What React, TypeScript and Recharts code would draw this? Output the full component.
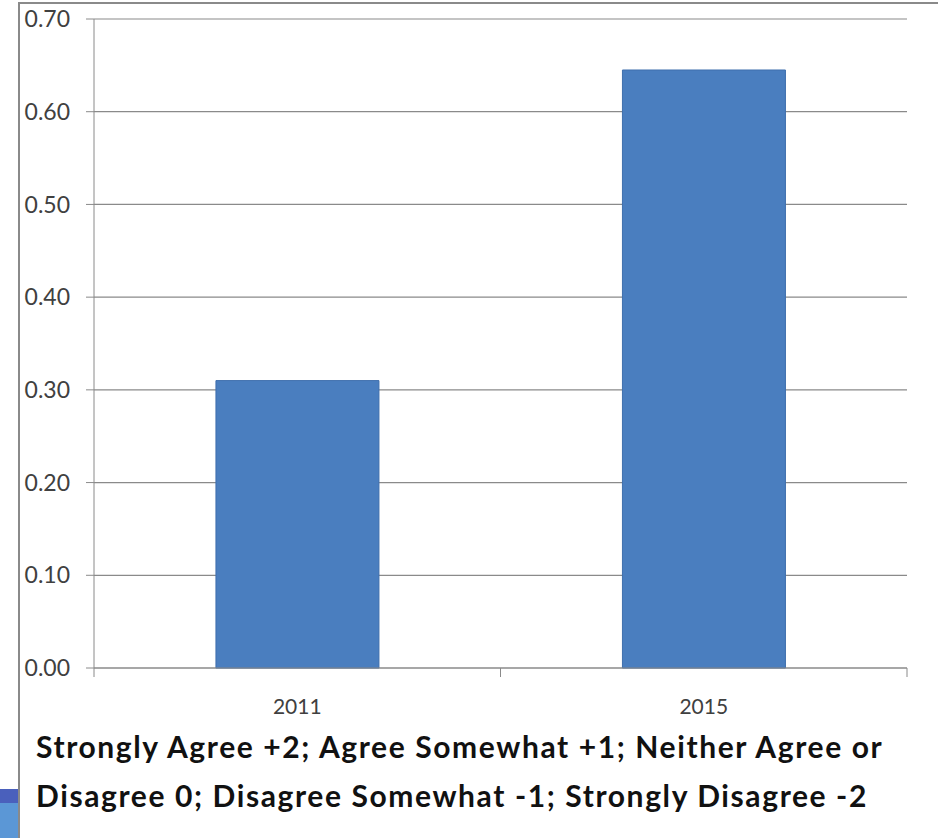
import React from "react";
import { Bar, BarChart, CartesianGrid, XAxis, YAxis } from "recharts";

// survey score averages by year
const years = ["2011", "2015"];
const scores = [0.31, 0.645];
const yTicks = [0, 0.1, 0.2, 0.3, 0.4, 0.5, 0.6, 0.7];
const captionLines = [
  "Strongly Agree +2; Agree Somewhat +1; Neither Agree or",
  "Disagree 0; Disagree Somewhat -1; Strongly Disagree -2",
];

const data = years.map((year, i) => ({ year, score: scores[i] }));

const AXIS = "#8a8a8a";
const FONT = "Lato, 'Open Sans', sans-serif";

// category label plus Excel-style tick marks at the band edges
const CategoryTick = (props: any) => {
  const { x, y, payload, index } = props;
  const half = payload.offset || 0;
  return (
    <g>
      {index === 0 && (
        <line x1={x - half} x2={x - half} y1={y} y2={y + 9} stroke={AXIS} />
      )}
      <line x1={x + half} x2={x + half} y1={y} y2={y + 9} stroke={AXIS} />
      <text
        x={x}
        y={y + 37}
        textAnchor="middle"
        dominantBaseline="central"
        fontSize={21}
        fontFamily={FONT}
        fill="#404040"
      >
        {payload.value}
      </text>
    </g>
  );
};

export default function App() {
  return (
    <div
      style={{
        position: "absolute",
        left: 0,
        top: 0,
        width: 938,
        height: 838,
        background: "#fff",
        overflow: "hidden",
      }}
    >
      {/* frame edges */}
      <div style={{ position: "absolute", left: 18, top: 2, width: 920, height: 836, borderTop: `2px solid ${AXIS}`, borderLeft: `2px solid ${AXIS}`, boxSizing: "border-box" }} />
      <div style={{ position: "absolute", left: 0, top: 789, width: 18, height: 14, background: "#4a60bc" }} />
      <div style={{ position: "absolute", left: 0, top: 803, width: 18, height: 35, background: "#5b97d6" }} />

      <div style={{ position: "absolute", left: 0, top: 0 }}>
        <BarChart
          width={938}
          height={720}
          data={data}
          margin={{ top: 19, right: 31, left: 0, bottom: 12 }}
          barCategoryGap="30%"
        >
          <CartesianGrid vertical={false} stroke={AXIS} strokeWidth={1.2} />
          <XAxis
            dataKey="year"
            height={40}
            axisLine={{ stroke: AXIS }}
            tickLine={false}
            tickSize={0}
            tickMargin={0}
            interval={0}
            tick={<CategoryTick />}
          />
          <YAxis
            width={94}
            domain={[0, 0.7]}
            ticks={yTicks}
            interval={0}
            axisLine={{ stroke: AXIS }}
            tickLine={{ stroke: AXIS }}
            tickSize={8}
            tickMargin={16}
            tickFormatter={(v: number) => v.toFixed(2)}
            tick={{ fontSize: 23, fontFamily: FONT, fill: "#404040" }}
          />
          <Bar
            dataKey="score"
            fill="#4a7ebf"
            stroke="#3f6fad"
            strokeWidth={1}
            isAnimationActive={false}
          />
        </BarChart>
      </div>

      {captionLines.map((line, i) => (
        <div
          key={i}
          style={{
            position: "absolute",
            left: 36,
            top: 728 + i * 49,
            fontFamily: FONT,
            fontWeight: 700,
            fontSize: 30,
            lineHeight: "36px",
            letterSpacing: "1.6px",
            color: "#111",
            whiteSpace: "nowrap",
          }}
        >
          {line}
        </div>
      ))}
    </div>
  );
}
